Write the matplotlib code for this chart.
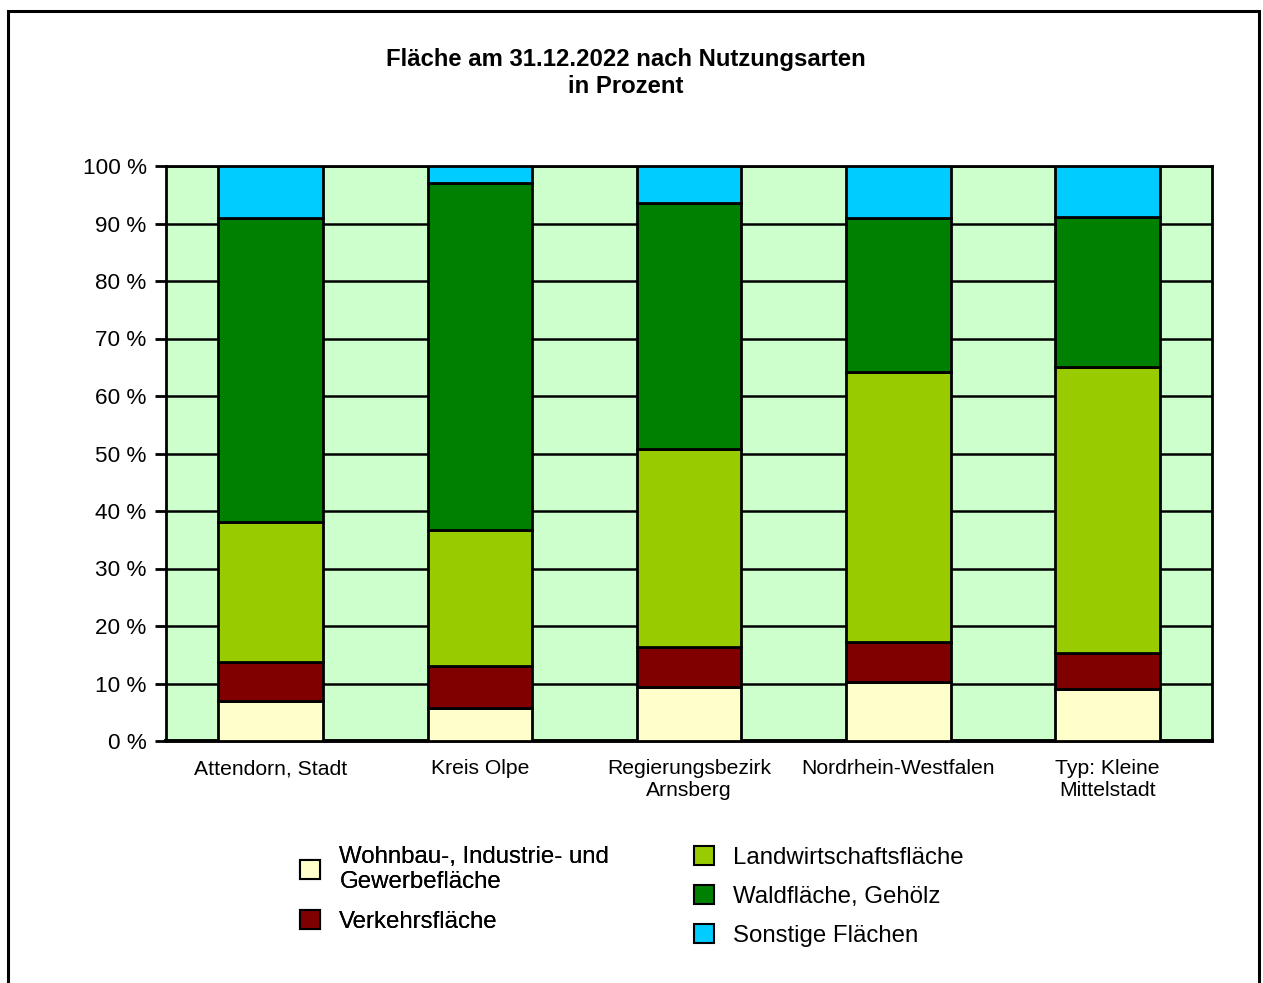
import numpy as np
import matplotlib.pyplot as plt
from matplotlib.patches import Patch, Rectangle

plt.rcParams['font.family'] = ['Liberation Sans', 'DejaVu Sans']

# data (percent of total area)
regions = ['Attendorn, Stadt', 'Kreis Olpe', 'Regierungsbezirk\nArnsberg',
           'Nordrhein-Westfalen', 'Typ: Kleine\nMittelstadt']
wohnbau = [7.0, 5.7, 9.4, 10.3, 9.0]
verkehr = [6.8, 7.3, 7.0, 7.0, 6.3]
landwirtschaft = [24.3, 23.7, 34.4, 46.8, 49.7]
wald = [52.9, 60.3, 42.8, 26.8, 26.1]
sonstige = [9.0, 3.0, 6.4, 9.1, 8.9]

series_names = ['Wohnbau-, Industrie- und\nGewerbefläche', 'Verkehrsfläche',
                'Landwirtschaftsfläche', 'Waldfläche, Gehölz', 'Sonstige Flächen']
colors = ['#FFFFCC', '#800000', '#99CC00', '#008000', '#00CCFF']

fig = plt.figure(figsize=(12.63, 9.83), dpi=100)
W, H = 1263, 983

# outer frame
fig.patches.append(Rectangle((8 / W, -0.01), (1259 - 8) / W, 1 - 11 / H + 0.01,
                             transform=fig.transFigure, fill=False,
                             edgecolor='black', linewidth=2.2))

ax = fig.add_axes([166 / W, 1 - 741 / H, (1212 - 166) / W, (741 - 166) / H])
ax.set_facecolor('#CCFFCC')

x = np.arange(len(regions))
bottom = np.zeros(len(regions))
for vals, col in zip([wohnbau, verkehr, landwirtschaft, wald, sonstige], colors):
    ax.bar(x, vals, 0.5, bottom=bottom, color=col, edgecolor='black',
           linewidth=2, zorder=3)
    bottom += np.array(vals)

ax.set_xlim(-0.5, len(regions) - 0.5)
ax.set_ylim(0, 100)
ax.set_yticks(np.arange(0, 101, 10))
ax.set_yticklabels(['%d %%' % v for v in range(0, 101, 10)])
ax.yaxis.grid(True, color='black', linewidth=1.8, zorder=1)
ax.set_axisbelow(True)
ax.set_xticks(x)
ax.set_xticklabels(regions, fontsize=15.2, linespacing=1.2)
ax.tick_params(axis='x', length=0, pad=13)
ax.tick_params(axis='y', length=8, width=2, labelsize=16.2, pad=6)
for side in ['left', 'top', 'right']:
    ax.spines[side].set_linewidth(2)
ax.spines['bottom'].set_linewidth(2.8)

fig.text(626 / W, 1 - 73 / H, 'Fläche am 31.12.2022 nach Nutzungsarten\nin Prozent',
         ha='center', va='center', fontsize=17.2, fontweight='bold', linespacing=1.27)

handles = [Patch(facecolor=c, edgecolor='black', linewidth=1.5) for c in colors]

leg1 = fig.legend(handles[:2], series_names[:2], loc='upper left',
                  bbox_to_anchor=(278 / W, 1 - 824 / H), frameon=False,
                  fontsize=17.3, handlelength=0.85, handleheight=0.85,
                  handletextpad=0.8, labelspacing=0.7)
for t in leg1.get_texts():
    t.set_linespacing(1.2)
fig.legend(handles[2:], series_names[2:], loc='upper left',
           bbox_to_anchor=(672 / W, 1 - 824 / H), frameon=False,
           fontsize=17.3, handlelength=0.85, handleheight=0.85,
           handletextpad=0.8, labelspacing=0.67)
fig.add_artist(leg1)

fig.savefig('out.png', dpi=100)
